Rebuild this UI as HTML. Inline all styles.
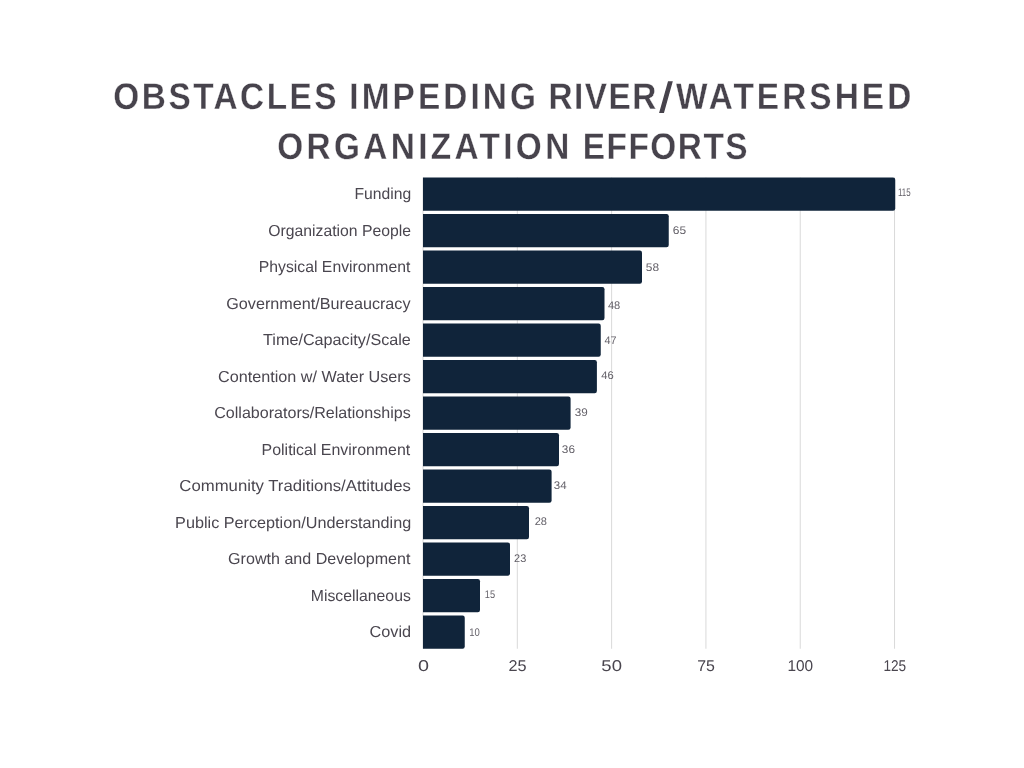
<!DOCTYPE html><html><head><meta charset="utf-8"><title>Obstacles Impeding River/Watershed Organization Efforts</title>
<style>html,body{margin:0;padding:0;background:#fff}svg{display:block}text{font-family:"Liberation Sans",Arial,sans-serif;text-rendering:geometricPrecision}</style></head><body>
<svg width="1024" height="768" viewBox="0 0 1024 768">
<rect width="1024" height="768" fill="#fff"/>
<g>
<text id="t0" transform="translate(113.37 109.30) scale(0.900 1)" font-size="37.06" fill="#47434c" font-weight="bold" textLength="247.98" lengthAdjust="spacing" stroke="#fff" stroke-width="0.3">OBSTACLES</text>
<text id="t1" transform="translate(349.33 109.30) scale(0.900 1)" font-size="37.06" fill="#47434c" font-weight="bold" textLength="207.26" lengthAdjust="spacing" stroke="#fff" stroke-width="0.3">IMPEDING</text>
<text id="t2" transform="translate(548.48 109.30) scale(0.900 1)" font-size="37.06" fill="#47434c" font-weight="bold" textLength="119.88" lengthAdjust="spacing" stroke="#fff" stroke-width="0.3">RIVER</text>
<text id="t3" transform="translate(676.02 109.30) scale(0.900 1)" font-size="37.06" fill="#47434c" font-weight="bold" textLength="261.39" lengthAdjust="spacing" stroke="#fff" stroke-width="0.3">WATERSHED</text>
<text id="t4" transform="translate(277.28 159.10) scale(0.900 1)" font-size="37.06" fill="#47434c" font-weight="bold" textLength="324.42" lengthAdjust="spacing" stroke="#fff" stroke-width="0.3">ORGANIZATION</text>
<text id="t5" transform="translate(582.72 159.10) scale(0.900 1)" font-size="37.06" fill="#47434c" font-weight="bold" textLength="183.19" lengthAdjust="spacing" stroke="#fff" stroke-width="0.3">EFFORTS</text>
<text id="t6" x="660.08" y="111.55" font-size="41.40" fill="#47434c" textLength="11.87" lengthAdjust="spacingAndGlyphs" stroke="#47434c" stroke-width="1.4">/</text>
</g>
<g stroke="#d9d9d9" stroke-width="1">
<line x1="423.00" y1="177.50" x2="423.00" y2="648.75"/>
<line x1="517.31" y1="177.50" x2="517.31" y2="648.75"/>
<line x1="611.62" y1="177.50" x2="611.62" y2="648.75"/>
<line x1="705.93" y1="177.50" x2="705.93" y2="648.75"/>
<line x1="800.24" y1="177.50" x2="800.24" y2="648.75"/>
<line x1="894.55" y1="177.50" x2="894.55" y2="648.75"/>
</g>
<g fill="#10243a">
<path d="M423.00 177.50H893.05Q895.25 177.50 895.25 179.70V208.55Q895.25 210.75 893.05 210.75H423.00Z"/>
<path d="M423.00 214.00H666.55Q668.75 214.00 668.75 216.20V245.05Q668.75 247.25 666.55 247.25H423.00Z"/>
<path d="M423.00 250.50H639.80Q642.00 250.50 642.00 252.70V281.55Q642.00 283.75 639.80 283.75H423.00Z"/>
<path d="M423.00 287.00H602.30Q604.50 287.00 604.50 289.20V318.05Q604.50 320.25 602.30 320.25H423.00Z"/>
<path d="M423.00 323.50H598.55Q600.75 323.50 600.75 325.70V354.55Q600.75 356.75 598.55 356.75H423.00Z"/>
<path d="M423.00 360.00H594.70Q596.90 360.00 596.90 362.20V391.05Q596.90 393.25 594.70 393.25H423.00Z"/>
<path d="M423.00 396.50H568.40Q570.60 396.50 570.60 398.70V427.55Q570.60 429.75 568.40 429.75H423.00Z"/>
<path d="M423.00 433.00H556.80Q559.00 433.00 559.00 435.20V464.05Q559.00 466.25 556.80 466.25H423.00Z"/>
<path d="M423.00 469.50H549.40Q551.60 469.50 551.60 471.70V500.55Q551.60 502.75 549.40 502.75H423.00Z"/>
<path d="M423.00 506.00H526.80Q529.00 506.00 529.00 508.20V537.05Q529.00 539.25 526.80 539.25H423.00Z"/>
<path d="M423.00 542.50H507.80Q510.00 542.50 510.00 544.70V573.55Q510.00 575.75 507.80 575.75H423.00Z"/>
<path d="M423.00 579.00H477.80Q480.00 579.00 480.00 581.20V610.05Q480.00 612.25 477.80 612.25H423.00Z"/>
<path d="M423.00 615.50H462.55Q464.75 615.50 464.75 617.70V646.55Q464.75 648.75 462.55 648.75H423.00Z"/>
</g>
<g>
<text id="c0" x="354.54" y="199.20" font-size="15.90" fill="#4a464f" textLength="56.72" lengthAdjust="spacingAndGlyphs">Funding</text>
<text id="c1" x="268.25" y="235.70" font-size="15.90" fill="#4a464f" textLength="142.79" lengthAdjust="spacingAndGlyphs">Organization People</text>
<text id="c2" x="258.83" y="272.20" font-size="15.90" fill="#4a464f" textLength="151.49" lengthAdjust="spacingAndGlyphs">Physical Environment</text>
<text id="c3" x="226.26" y="308.70" font-size="15.90" fill="#4a464f" textLength="184.27" lengthAdjust="spacingAndGlyphs">Government/Bureaucracy</text>
<text id="c4" x="263.09" y="345.20" font-size="15.90" fill="#4a464f" textLength="147.80" lengthAdjust="spacingAndGlyphs">Time/Capacity/Scale</text>
<text id="c5" x="218.08" y="381.70" font-size="15.90" fill="#4a464f" textLength="192.73" lengthAdjust="spacingAndGlyphs">Contention w/ Water Users</text>
<text id="c6" x="214.24" y="418.20" font-size="15.90" fill="#4a464f" textLength="196.47" lengthAdjust="spacingAndGlyphs">Collaborators/Relationships</text>
<text id="c7" x="261.58" y="454.70" font-size="15.90" fill="#4a464f" textLength="148.68" lengthAdjust="spacingAndGlyphs">Political Environment</text>
<text id="c8" x="179.38" y="491.20" font-size="15.90" fill="#4a464f" textLength="231.44" lengthAdjust="spacingAndGlyphs">Community Traditions/Attitudes</text>
<text id="c9" x="175.12" y="527.70" font-size="15.90" fill="#4a464f" textLength="236.08" lengthAdjust="spacingAndGlyphs">Public Perception/Understanding</text>
<text id="c10" x="228.10" y="564.20" font-size="15.90" fill="#4a464f" textLength="182.40" lengthAdjust="spacingAndGlyphs">Growth and Development</text>
<text id="c11" x="310.79" y="600.70" font-size="15.90" fill="#4a464f" textLength="100.05" lengthAdjust="spacingAndGlyphs">Miscellaneous</text>
<text id="c12" x="369.58" y="637.20" font-size="15.90" fill="#4a464f" textLength="41.60" lengthAdjust="spacingAndGlyphs">Covid</text>
</g>
<g>
<text id="v0" x="897.90" y="196.25" font-size="11.10" fill="#625f67" textLength="12.66" lengthAdjust="spacingAndGlyphs">115</text>
<text id="v1" x="672.76" y="234.00" font-size="11.10" fill="#625f67" textLength="13.32" lengthAdjust="spacingAndGlyphs">65</text>
<text id="v2" x="645.81" y="271.25" font-size="11.10" fill="#625f67" textLength="13.26" lengthAdjust="spacingAndGlyphs">58</text>
<text id="v3" x="607.94" y="309.25" font-size="11.10" fill="#625f67" textLength="12.35" lengthAdjust="spacingAndGlyphs">48</text>
<text id="v4" x="604.44" y="344.25" font-size="11.10" fill="#625f67" textLength="12.05" lengthAdjust="spacingAndGlyphs">47</text>
<text id="v5" x="601.22" y="379.40" font-size="11.10" fill="#625f67" textLength="12.49" lengthAdjust="spacingAndGlyphs">46</text>
<text id="v6" x="574.66" y="416.25" font-size="11.10" fill="#625f67" textLength="12.98" lengthAdjust="spacingAndGlyphs">39</text>
<text id="v7" x="561.84" y="453.00" font-size="11.10" fill="#625f67" textLength="13.13" lengthAdjust="spacingAndGlyphs">36</text>
<text id="v8" x="553.81" y="489.25" font-size="11.10" fill="#625f67" textLength="12.83" lengthAdjust="spacingAndGlyphs">34</text>
<text id="v9" x="534.71" y="525.25" font-size="11.10" fill="#625f67" textLength="12.28" lengthAdjust="spacingAndGlyphs">28</text>
<text id="v10" x="514.11" y="562.25" font-size="11.10" fill="#625f67" textLength="12.19" lengthAdjust="spacingAndGlyphs">23</text>
<text id="v11" x="484.81" y="598.40" font-size="11.10" fill="#625f67" textLength="10.30" lengthAdjust="spacingAndGlyphs">15</text>
<text id="v12" x="469.20" y="636.25" font-size="11.10" fill="#625f67" textLength="10.58" lengthAdjust="spacingAndGlyphs">10</text>
</g>
<g>
<text id="a0" x="417.95" y="671.30" font-size="15.60" fill="#4a464f" textLength="11.03" lengthAdjust="spacingAndGlyphs">0</text>
<text id="a1" x="508.51" y="671.30" font-size="15.60" fill="#4a464f" textLength="18.08" lengthAdjust="spacingAndGlyphs">25</text>
<text id="a2" x="601.37" y="671.30" font-size="15.60" fill="#4a464f" textLength="20.60" lengthAdjust="spacingAndGlyphs">50</text>
<text id="a3" x="697.24" y="671.30" font-size="15.60" fill="#4a464f" textLength="17.73" lengthAdjust="spacingAndGlyphs">75</text>
<text id="a4" x="787.45" y="671.30" font-size="15.60" fill="#4a464f" textLength="25.73" lengthAdjust="spacingAndGlyphs">100</text>
<text id="a5" x="883.41" y="671.30" font-size="15.60" fill="#4a464f" textLength="22.76" lengthAdjust="spacingAndGlyphs">125</text>
</g>
</svg></body></html>
